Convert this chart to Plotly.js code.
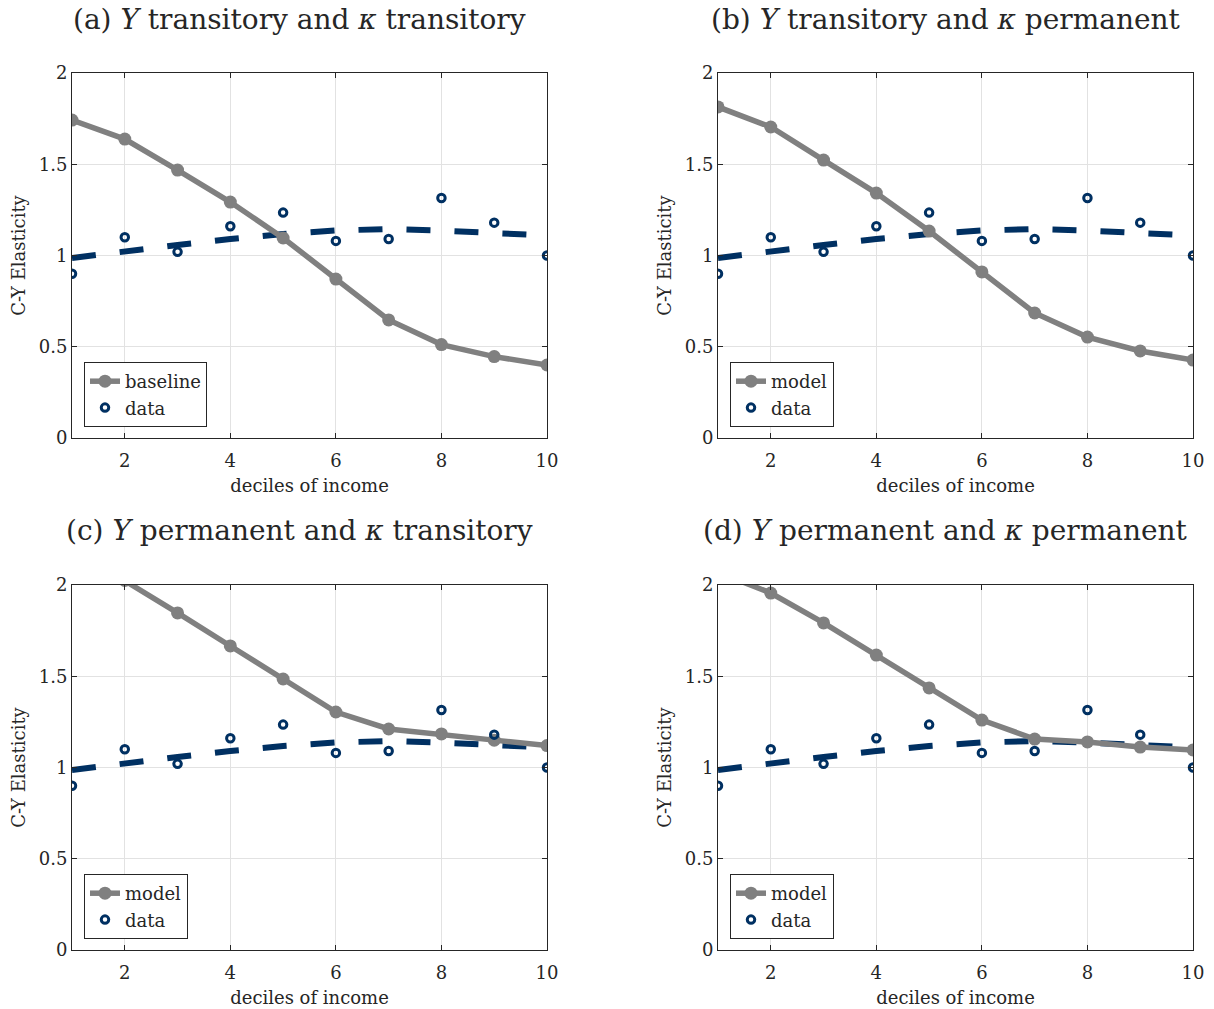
<!DOCTYPE html>
<html><head><meta charset="utf-8">
<script src="https://cdn.plot.ly/plotly-3.0.1.min.js"></script>
<style>html,body{margin:0;padding:0;background:#fff}</style>
</head><body>
<div id="chart" style="width:1214px;height:1009px"></div>
<script>
const deciles = [1,2,3,4,5,6,7,8,9,10];
const dataPoints = [0.90,1.10,1.02,1.16,1.235,1.08,1.09,1.315,1.18,1.00];
const dataFit = [0.986,1.026,1.058,1.09,1.118,1.137,1.145,1.136,1.124,1.11];
const modelA = [1.742,1.638,1.468,1.293,1.096,0.871,0.647,0.512,0.446,0.400];
const modelB = [1.814,1.704,1.523,1.342,1.134,0.910,0.685,0.553,0.477,0.427];
const modelC = [2.20,2.025,1.847,1.666,1.485,1.304,1.211,1.184,1.150,1.120];
const modelD = [2.07,1.956,1.792,1.616,1.436,1.260,1.156,1.140,1.112,1.096];
const panelTitles = [
  "(a) <i>Y</i> transitory and <i>κ</i> transitory",
  "(b) <i>Y</i> transitory and <i>κ</i> permanent",
  "(c) <i>Y</i> permanent and <i>κ</i> transitory",
  "(d) <i>Y</i> permanent and <i>κ</i> permanent"
];
const modelNames = ["baseline","model","model","model"];
const models = [modelA, modelB, modelC, modelD];

const W = 1214, H = 1009;
const navy = 'rgb(0,48,98)';
const grey = 'rgb(128,128,128)';
const FONT = 'DejaVu Serif, serif';
const TXT = '#262626';

const boxes = [
  {l:72, r:547, t:73, b:438},
  {l:718, r:1193, t:73, b:438},
  {l:72, r:547, t:585, b:950},
  {l:718, r:1193, t:585, b:950}
];
const titleY = [20, 20, 530, 530];

const traces = [];
const layout = {
  width: W, height: H,
  margin: {l:0, r:0, t:0, b:0},
  paper_bgcolor: '#fff', plot_bgcolor: '#fff',
  showlegend: true,
  font: {family: FONT, color: TXT, size: 17},
  annotations: []
};

boxes.forEach((bx, i) => {
  const n = i + 1;
  const xa = n === 1 ? 'x' : 'x' + n;
  const ya = n === 1 ? 'y' : 'y' + n;
  const lg = n === 1 ? 'legend' : 'legend' + n;
  traces.push({
    x: deciles, y: dataFit, xaxis: xa, yaxis: ya, mode: 'lines',
    line: {color: navy, width: 6, dash: '24px,24px'},
    showlegend: false, hoverinfo: 'skip'
  });
  traces.push({
    x: deciles, y: models[i], xaxis: xa, yaxis: ya, mode: 'lines+markers',
    name: modelNames[i], legend: lg,
    line: {color: grey, width: 5.5},
    marker: {color: grey, size: 13, symbol: 'circle'}
  });
  traces.push({
    x: deciles, y: dataPoints, xaxis: xa, yaxis: ya, mode: 'markers',
    name: 'data', legend: lg,
    marker: {color: navy, size: 7.5, symbol: 'circle-open', line: {color: navy, width: 3}}
  });
  const xk = n === 1 ? 'xaxis' : 'xaxis' + n;
  const yk = n === 1 ? 'yaxis' : 'yaxis' + n;
  layout[xk] = {
    domain: [bx.l / W, bx.r / W], anchor: ya, range: [1, 10],
    tickvals: [2,4,6,8,10], ticks: 'inside', ticklen: 5, tickcolor: TXT,
    showline: true, linecolor: TXT, linewidth: 1, mirror: 'ticks',
    showgrid: true, gridcolor: 'rgb(226,226,226)', gridwidth: 1, zeroline: false,
    ticklabelstandoff: 6,
    tickfont: {family: FONT, size: 18, color: TXT},
    title: {text: 'deciles of income', font: {family: FONT, size: 18, color: TXT}, standoff: 9}
  };
  layout[yk] = {
    domain: [1 - bx.b / H, 1 - bx.t / H], anchor: xa, range: [0, 2],
    tickvals: [0, 0.5, 1, 1.5, 2], ticktext: ['0','0.5','1','1.5','2'],
    ticks: 'inside', ticklen: 5, tickcolor: TXT,
    showline: true, linecolor: TXT, linewidth: 1, mirror: 'ticks',
    showgrid: true, gridcolor: 'rgb(226,226,226)', gridwidth: 1, zeroline: false,
    tickfont: {family: FONT, size: 18, color: TXT},
    title: {text: 'C-Y Elasticity', font: {family: FONT, size: 18, color: TXT}, standoff: 8}
  };
  layout[lg] = {
    x: (bx.l + 12) / W, y: 1 - (bx.b - 11) / H, xanchor: 'left', yanchor: 'bottom',
    xref: 'paper', yref: 'paper',
    bgcolor: '#fff', bordercolor: TXT, borderwidth: 1,
    font: {family: FONT, size: 18, color: TXT},
    itemwidth: 30, tracegroupgap: 0
  };
  layout.annotations.push({
    text: panelTitles[i], xref: 'paper', yref: 'paper',
    x: (bx.l + bx.r) / 2 / W - 10 / W, y: 1 - titleY[i] / H,
    xanchor: 'center', yanchor: 'middle', showarrow: false,
    font: {family: FONT, size: 28, color: TXT}
  });
});

Plotly.newPlot('chart', traces, layout, {displayModeBar: false, staticPlot: true});
</script>
</body></html>
